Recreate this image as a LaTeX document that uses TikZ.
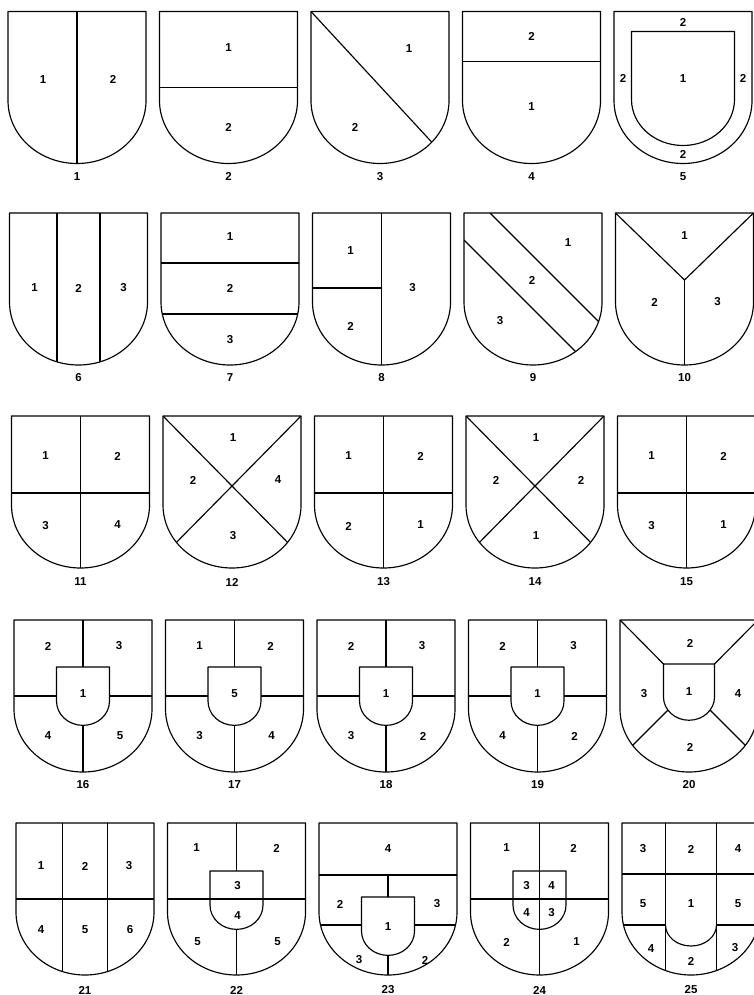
\documentclass[tikz,border=0pt]{standalone}
\usepackage{fontspec}
\setmainfont{Liberation Sans}
\tikzset{
  field/.style={line width=1.15pt, line join=round},
  tincture/.style={font=\fontsize{11.5}{12}\selectfont\bfseries, inner sep=0pt},
  plateno/.style={font=\fontsize{11.5}{12}\selectfont\bfseries, inner sep=0pt},
}
% outline of one shield, origin at the middle of its top edge
\newcommand{\shieldpath}{(-69,0) -- (-69,89) arc[start angle=180, end angle=0, x radius=69, y radius=63] -- (69,0) -- cycle}

\begin{document}
\begin{tikzpicture}[x=1pt, y=1pt, yscale=-1]
\useasboundingbox (0,0) rectangle (753,995);

% ---------------- row 1 ----------------
% 1: per pale
\begin{scope}[shift={(77,11.5)}]
  \begin{scope}
    \clip \shieldpath;
    \draw[field] (0,0) -- (0,160);
  \end{scope}
  \draw[field] \shieldpath;
  \node[tincture] (a1) at (-34,68) {1};
  \node[tincture] (a2) at (36,68) {2};
  \node[plateno] (n1) at (0,165) {1};
\end{scope}

% 2: per fess
\begin{scope}[shift={(228.5,11.5)}]
  \draw[field] (-69,76) -- (69,76);
  \draw[field] \shieldpath;
  \node[tincture] (b1) at (0,36) {1};
  \node[tincture] (b2) at (0,116) {2};
  \node[plateno] (n2) at (0,165) {2};
\end{scope}

% 3: per bend
\begin{scope}[shift={(380,11.5)}]
  \begin{scope}
    \clip \shieldpath;
    \draw[field] (-69,0) -- (60,139.6);
  \end{scope}
  \draw[field] \shieldpath;
  \node[tincture] (c1) at (29,37) {1};
  \node[tincture] (c2) at (-25,116) {2};
  \node[plateno] (n3) at (0,165) {3};
\end{scope}

% 4: chief
\begin{scope}[shift={(531.5,11.5)}]
  \draw[field] (-69,50) -- (69,50);
  \draw[field] \shieldpath;
  \node[tincture] (d1) at (0,25) {2};
  \node[tincture] (d2) at (0,95) {1};
  \node[plateno] (n4) at (0,165) {4};
\end{scope}

% 5: bordure
\begin{scope}[shift={(683,11.5)}]
  \draw[field] (-51.5,20) -- (-51.5,88) arc[start angle=180, end angle=0, x radius=51.5, y radius=46] -- (51.5,20) -- cycle;
  \draw[field] \shieldpath;
  \node[tincture] (e1) at (0,11) {2};
  \node[tincture] (e2) at (-60,67) {2};
  \node[tincture] (e3) at (0,67) {1};
  \node[tincture] (e4) at (60,67) {2};
  \node[tincture] (e5) at (0,143) {2};
  \node[plateno] (n5) at (0,165) {5};
\end{scope}

% ---------------- row 2 ----------------
% 6: tierced per pale
\begin{scope}[shift={(78.5,213)}]
  \begin{scope}
    \clip \shieldpath;
    \draw[field] (-21.5,0) -- (-21.5,160);
    \draw[field] (21.5,0) -- (21.5,160);
  \end{scope}
  \draw[field] \shieldpath;
  \node[tincture] (f1) at (-44,75) {1};
  \node[tincture] (f2) at (0,75) {2};
  \node[tincture] (f3) at (45,75) {3};
  \node[plateno] (n6) at (0,165) {6};
\end{scope}

% 7: tierced per fess
\begin{scope}[shift={(230,213)}]
  \begin{scope}
    \clip \shieldpath;
    \draw[field] (-69,50) -- (69,50);
    \draw[field] (-69,101) -- (69,101);
  \end{scope}
  \draw[field] \shieldpath;
  \node[tincture] (g1) at (0,24) {1};
  \node[tincture] (g2) at (0,75) {2};
  \node[tincture] (g3) at (0,127) {3};
  \node[plateno] (n7) at (0,165) {7};
\end{scope}

% 8: per pale, dexter per fess
\begin{scope}[shift={(381.5,213)}]
  \draw[field] (0,0) -- (0,152);
  \draw[field] (-69,75) -- (0,75);
  \draw[field] \shieldpath;
  \node[tincture] (h1) at (-31,38) {1};
  \node[tincture] (h2) at (-31,113) {2};
  \node[tincture] (h3) at (31,75) {3};
  \node[plateno] (n8) at (0,165) {8};
\end{scope}

% 9: bend
\begin{scope}[shift={(533,213)}]
  \begin{scope}
    \clip \shieldpath;
    \draw[field] (-43,0) -- (80,123);
    \draw[field] (-69,27) -- (60,156);
  \end{scope}
  \draw[field] \shieldpath;
  \node[tincture] (i1) at (35,30) {1};
  \node[tincture] (i2) at (-1,67) {2};
  \node[tincture] (i3) at (-33,108) {3};
  \node[plateno] (n9) at (0,165) {9};
\end{scope}

% 10: tierced in pairle
\begin{scope}[shift={(684.5,213)}]
  \draw[field] (-69,0) -- (0,67) -- (69,0);
  \draw[field] (0,67) -- (0,152);
  \draw[field] \shieldpath;
  \node[tincture] (j1) at (0,23) {1};
  \node[tincture] (j2) at (-30,89) {2};
  \node[tincture] (j3) at (33,89) {3};
  \node[plateno] (n10) at (0,165) {10};
\end{scope}

% ---------------- row 3 ----------------
% 11, 13, 15: quarterly
\foreach \cx/\ta/\tb/\tc/\td/\no in {80.5/1/2/3/4/11, 383.5/1/2/2/1/13, 686.5/1/2/3/1/15} {
  \begin{scope}[shift={(\cx,416)}]
    \draw[field] (0,0) -- (0,152);
    \draw[field] (-69,77) -- (69,77);
    \draw[field] \shieldpath;
    \node[tincture] (q\no a) at (-35,40) {\ta};
    \node[tincture] (q\no b) at (37,40) {\tb};
    \node[tincture] (q\no c) at (-35,110) {\tc};
    \node[tincture] (q\no d) at (37,109) {\td};
    \node[plateno] (n\no) at (0,166) {\no};
  \end{scope}
}

% 12, 14: per saltire
\foreach \cx/\ta/\tb/\tc/\td/\no in {232/1/2/4/3/12, 535/1/2/2/1/14} {
  \begin{scope}[shift={(\cx,416)}]
    \begin{scope}
      \clip \shieldpath;
      \draw[field] (-69,0) -- (100,171.5);
      \draw[field] (69,0) -- (-100,171.5);
    \end{scope}
    \draw[field] \shieldpath;
    \node[tincture] (x\no a) at (1,22) {\ta};
    \node[tincture] (x\no b) at (-39,64) {\tb};
    \node[tincture] (x\no c) at (46,64) {\tc};
    \node[tincture] (x\no d) at (1,120) {\td};
    \node[plateno] (n\no) at (0,166) {\no};
  \end{scope}
}

% ---------------- row 4 ----------------
% 16 to 19: quarterly with an inescutcheon
\foreach \cx/\ta/\tb/\tm/\tc/\td/\no in {83/2/3/1/4/5/16, 234.5/1/2/5/3/4/17, 386/2/3/1/3/2/18, 537.5/2/3/1/4/2/19} {
  \begin{scope}[shift={(\cx,620)}]
    \draw[field] (0,0) -- (0,152);
    \draw[field] (-69,76) -- (69,76);
    \begin{scope}[shift={(0,47)}, scale=0.384]
      \filldraw[field, fill=white] \shieldpath;
    \end{scope}
    \draw[field] \shieldpath;
    \node[tincture] (k\no a) at (-35,26) {\ta};
    \node[tincture] (k\no b) at (36,26) {\tb};
    \node[tincture] (k\no m) at (0,74) {\tm};
    \node[tincture] (k\no c) at (-35,116) {\tc};
    \node[tincture] (k\no d) at (37,116) {\td};
    \node[plateno] (n\no) at (0,165) {\no};
  \end{scope}
}

% 20: per saltire with an inescutcheon
\begin{scope}[shift={(689,620)}]
  \begin{scope}
    \clip \shieldpath;
    \draw[field] (-69,0) -- (-25.5,44);
    \draw[field] (69,0) -- (25.5,44);
    \draw[field] (0,69) -- (-80,149);
    \draw[field] (0,69) -- (80,149);
  \end{scope}
  \begin{scope}[shift={(0,44)}, scale=0.37]
    \filldraw[field, fill=white] \shieldpath;
  \end{scope}
  \draw[field] \shieldpath;
  \node[tincture] (m1) at (1,23) {2};
  \node[tincture] (m2) at (-45,74) {3};
  \node[tincture] (m3) at (0,72) {1};
  \node[tincture] (m4) at (49,74) {4};
  \node[tincture] (m5) at (1,127) {2};
  \node[plateno] (n20) at (0,165) {20};
\end{scope}

% ---------------- row 5 ----------------
% 21: six pieces
\begin{scope}[shift={(85,823)}]
  \begin{scope}
    \clip \shieldpath;
    \draw[field] (-22.5,0) -- (-22.5,160);
    \draw[field] (22.5,0) -- (22.5,160);
    \draw[field] (-69,76) -- (69,76);
  \end{scope}
  \draw[field] \shieldpath;
  \foreach \x/\y/\t [count=\i] in {-44/43/1, 0/43/2, 44/43/3, -44/107/4, 0/107/5, 45/107/6}
    \node[tincture] (r\i) at (\x,\y) {\t};
  \node[plateno] (n21) at (0,167) {21};
\end{scope}

% 22: quarterly, inescutcheon per fess
\begin{scope}[shift={(236.5,823)}]
  \draw[field] (0,0) -- (0,152);
  \begin{scope}[shift={(0,48)}, scale=0.384]
    \filldraw[field, fill=white] \shieldpath;
  \end{scope}
  \draw[field] (-69,76) -- (69,76);
  \draw[field] \shieldpath;
  \foreach \x/\y/\t [count=\i] in {-40/25/1, 40/25/2, 1/63/3, 1/93/4, -39/119/5, 41/119/5}
    \node[tincture] (s\i) at (\x,\y) {\t};
  \node[plateno] (n22) at (0,167) {22};
\end{scope}

% 23: chief, the rest quarterly with an inescutcheon
\begin{scope}[shift={(388,823)}]
  \begin{scope}
    \clip \shieldpath;
    \draw[field] (-69,52) -- (69,52);
    \draw[field] (0,52) -- (0,160);
    \draw[field] (-69,102) -- (69,102);
  \end{scope}
  \begin{scope}[shift={(0,74)}, scale=0.384]
    \filldraw[field, fill=white] \shieldpath;
  \end{scope}
  \draw[field] \shieldpath;
  \foreach \x/\y/\t [count=\i] in {0/26/4, -48/81/2, 49/81/3, 0/104/1, -29/137/3, 37/137/2}
    \node[tincture] (u\i) at (\x,\y) {\t};
  \node[plateno] (n23) at (0,167) {23};
\end{scope}

% 24: quarterly, inescutcheon quarterly
\begin{scope}[shift={(539.5,823)}]
  \draw[field] (0,0) -- (0,152);
  \draw[field] (-69,76) -- (69,76);
  \begin{scope}[shift={(0,48)}, scale=0.384]
    \draw[field] \shieldpath;
  \end{scope}
  \draw[field] \shieldpath;
  \foreach \x/\y/\t [count=\i] in {-33/25/1, 34/25/2, -13/63/3, 12/63/4, -13/90/4, 12/90/3, -33/119/2, 37/119/1}
    \node[tincture] (v\i) at (\x,\y) {\t};
  \node[plateno] (n24) at (0,167) {24};
\end{scope}

% 25: nine pieces round a pale
\begin{scope}[shift={(691,823)}]
  \begin{scope}
    \clip \shieldpath;
    \draw[field] (-25.5,0) -- (-25.5,160);
    \draw[field] (25.5,0) -- (25.5,160);
    \draw[field] (-69,51) -- (69,51);
    \draw[field] (-69,102) -- (-25.5,102);
    \draw[field] (25.5,102) -- (69,102);
    \draw[field] (-25.5,102) arc[start angle=180, end angle=0, x radius=25.5, y radius=21];
  \end{scope}
  \draw[field] \shieldpath;
  \foreach \x/\y/\t [count=\i] in {-48/26/3, 0/26/2, 47/26/4, -48/81/5, 0/81/1, 47/81/5, -40/126/4, 0/138/2, 44/125/3}
    \node[tincture] (w\i) at (\x,\y) {\t};
  \node[plateno] (n25) at (0,167) {25};
\end{scope}
\end{tikzpicture}
\end{document}
